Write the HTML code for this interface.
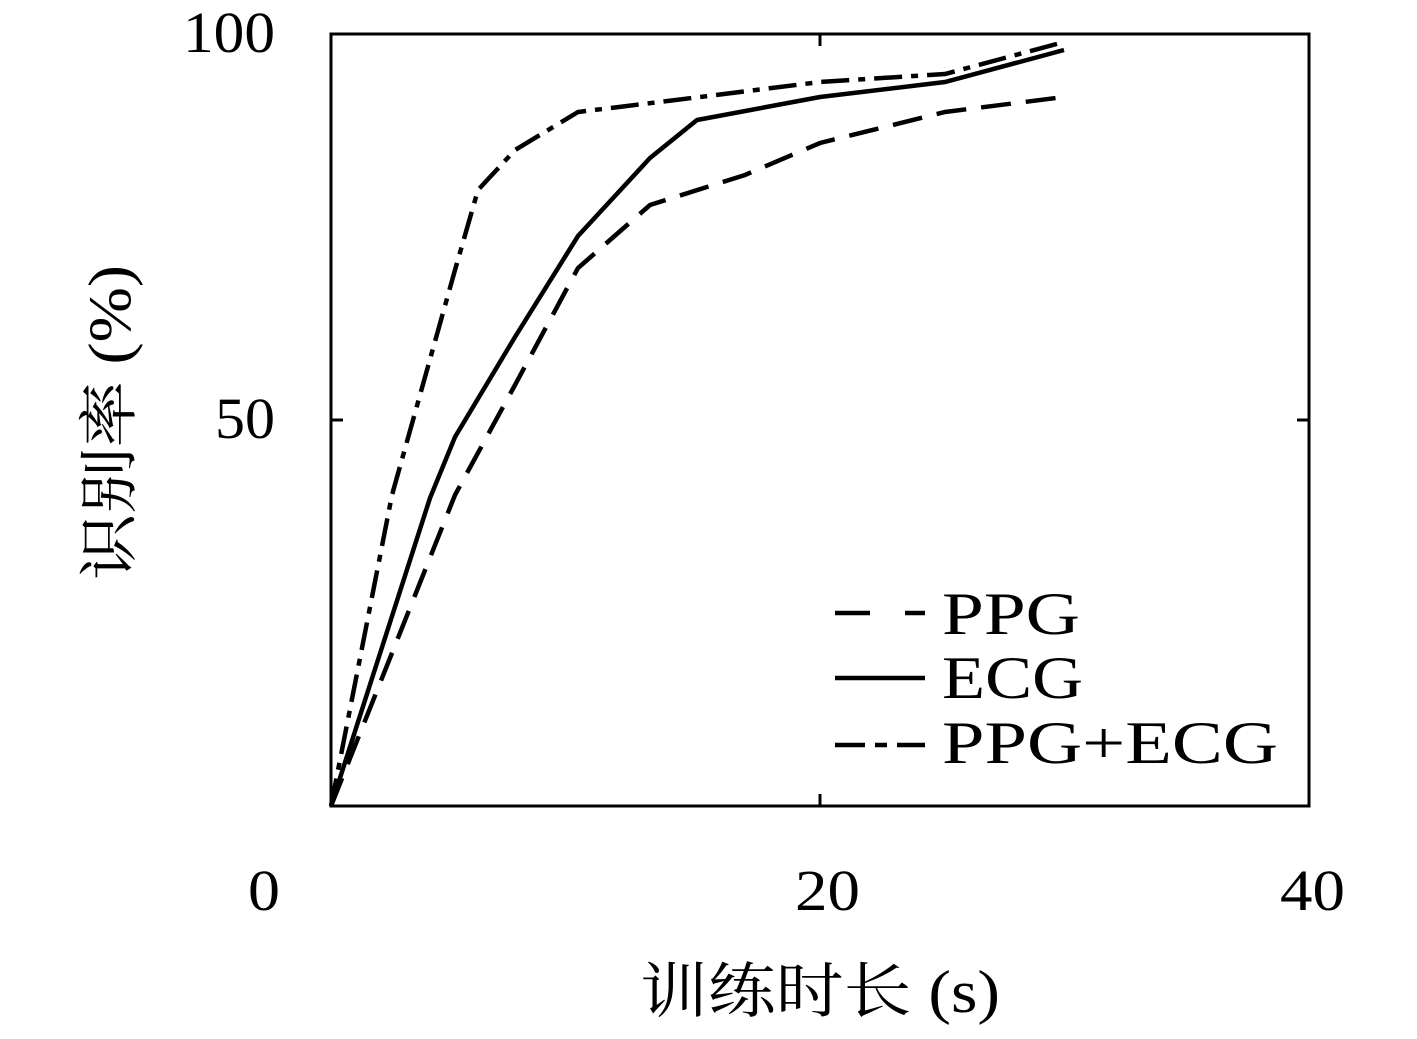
<!DOCTYPE html>
<html><head><meta charset="utf-8"><style>
html,body{margin:0;padding:0;background:#fff;}
svg{display:block;}
text{font-family:"Liberation Serif","Noto Serif CJK SC",serif;fill:#000;}
</style></head><body>
<svg width="1417" height="1039" viewBox="0 0 1417 1039" xmlns="http://www.w3.org/2000/svg">
<rect x="331" y="34" width="978" height="772" fill="none" stroke="#000" stroke-width="3"/>
<g stroke="#000" stroke-width="3">
<line x1="820" y1="34" x2="820" y2="46"/>
<line x1="820" y1="806" x2="820" y2="794"/>
<line x1="331" y1="420" x2="343" y2="420"/>
<line x1="1309" y1="420" x2="1297" y2="420"/>
</g>
<g font-size="58">
<text x="183" y="52" textLength="92" lengthAdjust="spacingAndGlyphs">100</text>
<text x="215" y="438" textLength="60" lengthAdjust="spacingAndGlyphs">50</text>
<text x="248" y="910" textLength="32" lengthAdjust="spacingAndGlyphs">0</text>
<text x="795" y="910" textLength="65" lengthAdjust="spacingAndGlyphs">20</text>
<text x="1280" y="910" textLength="65" lengthAdjust="spacingAndGlyphs">40</text>
<text x="640" y="1012" font-size="60" textLength="360" lengthAdjust="spacingAndGlyphs">训练时长 (s)</text>
<text transform="translate(130,580) rotate(-90)" font-size="60" textLength="315" lengthAdjust="spacingAndGlyphs">识别率 (%)</text>
</g>
<g fill="none" stroke="#000" stroke-width="4.5">
<polyline stroke-dasharray="28,9,7,9" points="331,806 392,495 455,270 478,190 515,150 578,112 700,97 820,82 945,74 1064,42"/>
<polyline points="331,806 430,498 455,437 515,337 578,236 650,158 697,120 820,97 945,82 1064,50"/>
<polyline stroke-dasharray="30,15" points="331,806 455,495 515,385 578,268 650,205 745,175 820,143 945,112 1064,97"/>
<line x1="835" y1="613" x2="925" y2="613" stroke-dasharray="35,35"/>
<line x1="835" y1="678" x2="925" y2="678"/>
<line x1="835" y1="745" x2="925" y2="745" stroke-dasharray="30,10,12,10"/>
</g>
<g font-size="60">
<text x="942" y="634" textLength="138" lengthAdjust="spacingAndGlyphs">PPG</text>
<text x="942" y="698" textLength="141" lengthAdjust="spacingAndGlyphs">ECG</text>
<text x="942" y="763" textLength="336" lengthAdjust="spacingAndGlyphs">PPG+ECG</text>
</g>
</svg>
</body></html>
